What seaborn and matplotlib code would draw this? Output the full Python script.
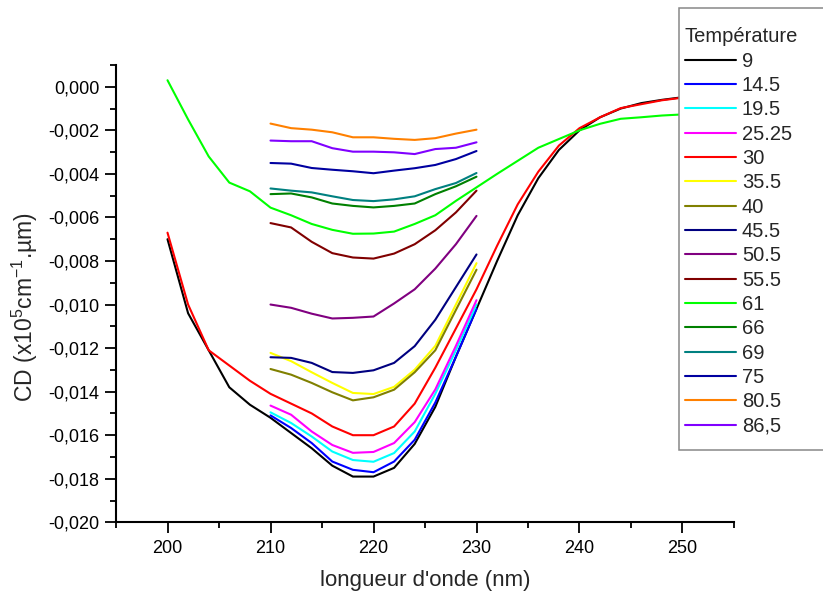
import numpy as np
import pandas as pd
import matplotlib
matplotlib.use("Agg")
import matplotlib.pyplot as plt
import seaborn as sns
from matplotlib.ticker import MultipleLocator, FuncFormatter
from matplotlib.patches import Rectangle

# ---------------- data ----------------
wl_full = list(range(200, 251, 2))   # 200..250 nm
wl_short = list(range(210, 231, 2))  # 210..230 nm

cd_9 = [-0.0070, -0.0104, -0.0121, -0.0138, -0.0146, -0.0152, -0.0159, -0.0166, -0.0174,
        -0.0179, -0.0179, -0.0175, -0.0164, -0.0147, -0.0124, -0.0102, -0.0080, -0.0059,
        -0.0042, -0.0029, -0.0020, -0.0014, -0.0010, -0.00075, -0.0006, -0.00048]
cd_30 = [-0.0067, -0.0100, -0.0121, -0.0128, -0.0135, -0.0141, -0.01455, -0.0150, -0.0156,
         -0.0160, -0.0160, -0.0156, -0.01455, -0.0129, -0.0111, -0.0093, -0.0073, -0.0054,
         -0.0039, -0.0027, -0.0019, -0.0014, -0.00098, -0.0008, -0.00062, -0.0005]
cd_61 = [0.0003, -0.0015, -0.0032, -0.0044, -0.0048, -0.00555, -0.0059, -0.0063, -0.00657,
         -0.00675, -0.00674, -0.00665, -0.0063, -0.0059, -0.00524, -0.00462, -0.0040, -0.0034,
         -0.0028, -0.0024, -0.0020, -0.0017, -0.00147, -0.0014, -0.00132, -0.00127]

cd_14_5 = [-0.01509, -0.01567, -0.01636, -0.01721, -0.01759, -0.0177, -0.01721, -0.01621, -0.0145, -0.0124, -0.0102]
cd_19_5 = [-0.01495, -0.01544, -0.01606, -0.01675, -0.01714, -0.01722, -0.01682, -0.01583, -0.0141, -0.0121, -0.0100]
cd_25_25 = [-0.01464, -0.01506, -0.01583, -0.01645, -0.01681, -0.01677, -0.01636, -0.0154, -0.0139, -0.0119, -0.0098]
cd_35_5 = [-0.01222, -0.0126, -0.01311, -0.0136, -0.01406, -0.01411, -0.01378, -0.01299, -0.0119, -0.0100, -0.0081]
cd_40 = [-0.01296, -0.01322, -0.0136, -0.01403, -0.0144, -0.01426, -0.01391, -0.01311, -0.0121, -0.01025, -0.0084]
cd_45_5 = [-0.01242, -0.01245, -0.01268, -0.0131, -0.01314, -0.01302, -0.01268, -0.01191, -0.0107, -0.0092, -0.0077]
cd_50_5 = [-0.0100, -0.01015, -0.01042, -0.01064, -0.01061, -0.01055, -0.00995, -0.0093, -0.00835, -0.00723, -0.00593]
cd_55_5 = [-0.00626, -0.00646, -0.00712, -0.00764, -0.00784, -0.00789, -0.00766, -0.00723, -0.00659, -0.00577, -0.00477]
cd_66 = [-0.00493, -0.0049, -0.00508, -0.00536, -0.00547, -0.00554, -0.00547, -0.00536, -0.00493, -0.00457, -0.00413]
cd_69 = [-0.00467, -0.00477, -0.00485, -0.00503, -0.0052, -0.00525, -0.00517, -0.00503, -0.0047, -0.00442, -0.00396]
cd_75 = [-0.0035, -0.00353, -0.00373, -0.00381, -0.00388, -0.00397, -0.00385, -0.00374, -0.00359, -0.00332, -0.00295]
cd_80_5 = [-0.00169, -0.0019, -0.00197, -0.00209, -0.00232, -0.00232, -0.00239, -0.00244, -0.00236, -0.00215, -0.00197]
cd_86_5 = [-0.00247, -0.0025, -0.0025, -0.00282, -0.00298, -0.00298, -0.00301, -0.00309, -0.00286, -0.0028, -0.00255]

temps = ["9", "14.5", "19.5", "25.25", "30", "35.5", "40", "45.5", "50.5",
         "55.5", "61", "66", "69", "75", "80.5", "86,5"]
colors = ["#000000", "#0000FF", "#00FFFF", "#FF00FF", "#FF0000", "#FFFF00", "#808000",
          "#000080", "#800080", "#800000", "#00FF00", "#008000", "#008080", "#0000A0",
          "#FF8000", "#8000FF"]

series = {
    "9": (wl_full, cd_9), "14.5": (wl_short, cd_14_5), "19.5": (wl_short, cd_19_5),
    "25.25": (wl_short, cd_25_25), "30": (wl_full, cd_30), "35.5": (wl_short, cd_35_5),
    "40": (wl_short, cd_40), "45.5": (wl_short, cd_45_5), "50.5": (wl_short, cd_50_5),
    "55.5": (wl_short, cd_55_5), "61": (wl_full, cd_61), "66": (wl_short, cd_66),
    "69": (wl_short, cd_69), "75": (wl_short, cd_75), "80.5": (wl_short, cd_80_5),
    "86,5": (wl_short, cd_86_5),
}

rows = []
for t in temps:
    wl, vals = series[t]
    rows += [(t, w, v) for w, v in zip(wl, vals)]
df = pd.DataFrame(rows, columns=["Température", "wl", "cd"])

# ---------------- style ----------------
sns.set_style("ticks")
plt.rcParams["font.family"] = ["Liberation Sans", "DejaVu Sans"]
plt.rcParams["mathtext.fontset"] = "custom"
plt.rcParams["mathtext.rm"] = "Liberation Sans"
plt.rcParams["mathtext.default"] = "regular"

W, H = 823, 593
fig = plt.figure(figsize=(W / 100, H / 100), dpi=100)
ax_l, ax_r, ax_t, ax_b = 116, 734, 65, 522.3
ax = fig.add_axes([ax_l / W, 1 - ax_b / H, (ax_r - ax_l) / W, (ax_b - ax_t) / H])

sns.lineplot(data=df, x="wl", y="cd", hue="Température", hue_order=temps,
             palette=dict(zip(temps, colors)), linewidth=1.5, estimator=None,
             sort=False, ax=ax)

ax.set_xlim(195, 255)
ax.set_ylim(-0.020, 0.001)
ax.xaxis.set_major_locator(MultipleLocator(10))
ax.xaxis.set_minor_locator(MultipleLocator(5))
ax.yaxis.set_major_locator(MultipleLocator(0.002))
ax.yaxis.set_minor_locator(MultipleLocator(0.001))
ax.yaxis.set_major_formatter(FuncFormatter(lambda v, p: f"{round(v, 4) + 0.0:.3f}".replace(".", ",")))

for side in ["top", "right"]:
    ax.spines[side].set_visible(False)
for side in ["left", "bottom"]:
    ax.spines[side].set_linewidth(1.5)
    ax.spines[side].set_color("black")

ax.tick_params(axis="both", which="major", direction="out", length=8, width=1.3,
               labelsize=13, color="black", labelcolor="black")
ax.tick_params(axis="both", which="minor", direction="out", length=4, width=1.3, color="black")
ax.tick_params(axis="x", which="major", pad=5)
ax.tick_params(axis="y", which="major", pad=4)

ax.set_xlabel("longueur d'onde (nm)", fontsize=16, labelpad=9)
ax.set_ylabel("CD (x10$^5$cm$^{-1}$.µm)", fontsize=16.5)
ax.yaxis.set_label_coords(-(ax_l - 40) / (ax_r - ax_l), 0.47)

# legend: frame drawn as a rectangle, entries as a frameless legend
ax.add_patch(Rectangle((679 / W, 1 - 450 / H), 170 / W, 442 / H, transform=fig.transFigure,
                       facecolor="white", edgecolor="#888888", linewidth=1.1,
                       clip_on=False, zorder=4.5))
leg_x = (685 - ax_l) / (ax_r - ax_l)
leg_y = (ax_b - 27.5) / (ax_b - ax_t)
sns.move_legend(ax, loc="upper left", bbox_to_anchor=(leg_x, leg_y), title="Température",
                fontsize=14.5, title_fontsize=14.5, frameon=False,
                handlelength=2.53, handletextpad=0.3, labelspacing=0.264,
                borderpad=0, borderaxespad=0, alignment="left")
leg = ax.get_legend()
leg.set_zorder(5)
for h in leg.get_lines():
    h.set_linewidth(1.5)

fig.savefig("out.png", dpi=100)
